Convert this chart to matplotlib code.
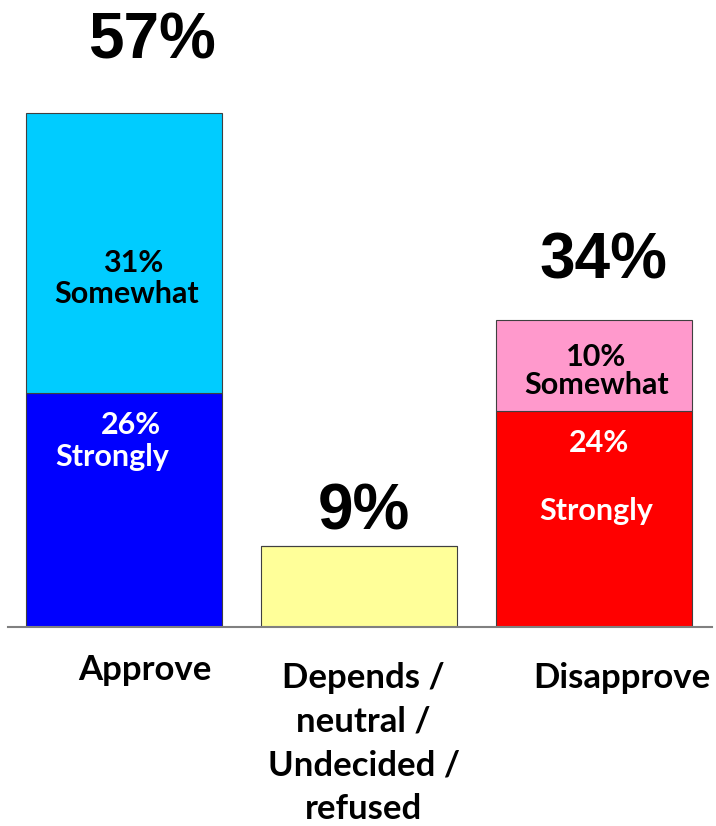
import matplotlib
matplotlib.use("Agg")
import matplotlib.pyplot as plt
import numpy as np

# data
categories = ["Approve", "Depends /\nneutral /\nUndecided /\nrefused", "Disapprove"]
strongly = [26, 9, 24]
somewhat = [31, 0, 10]
totals = [57, 9, 34]
bottom_colors = ["#0000FF", "#FFFF99", "#FF0000"]
top_colors = ["#00CCFF", "#FFFF99", "#FF99CC"]

fig = plt.figure(figsize=(7.16, 8.26), dpi=100)
ax = fig.add_axes([8 / 716, 199 / 826, 704 / 716, 586 / 826])

x = np.arange(len(categories))
w = 196 / 235
ax.bar(x, strongly, width=w, color=bottom_colors, edgecolor="#404040", linewidth=0.8)
ax.bar(x, somewhat, width=w, bottom=strongly, color=top_colors, edgecolor="#404040", linewidth=0.8)

ax.set_xlim(-0.494, 2.502)
ax.set_ylim(0, 65)
for s in ["top", "left", "right"]:
    ax.spines[s].set_visible(False)
ax.spines["bottom"].set_color("#808080")
ax.spines["bottom"].set_linewidth(1.5)
ax.set_xticks([])
ax.set_yticks([])

big = dict(family="Liberation Sans", weight="bold", fontsize=46, ha="center", va="center")
ax.text(0.12, 65.0, f"{totals[0]}%", **big, clip_on=False)
ax.text(0.02 + 1, 12.7, f"{totals[1]}%", **big)
ax.text(2.04, 40.5, f"{totals[2]}%", **big)

inner = dict(family="Lato", weight="bold", fontsize=22, ha="center", va="center")
ax.text(0.04, 40.4, f"{somewhat[0]}%", color="black", **inner)
ax.text(0.01, 36.9, "Somewhat", color="black", **inner)
ax.text(0.03, 22.4, f"{strongly[0]}%", color="white", **inner)
ax.text(-0.05, 18.9, "Strongly", color="white", **inner)
ax.text(2.01, 30.0, f"{somewhat[2]}%", color="black", **inner)
ax.text(2.01, 26.8, "Somewhat", color="black", **inner)
ax.text(2.02, 20.4, f"{strongly[2]}%", color="white", **inner)
ax.text(2.01, 12.9, "Strongly", color="white", **inner)

lab = dict(family="Lato", weight="bold", fontsize=25, ha="center", va="top", linespacing=1.45)
ax.text(0.09, -3.0, categories[0], **lab, clip_on=False)
ax.text(1.02, -3.9, categories[1], **lab, clip_on=False)
ax.text(2.12, -3.9, categories[2], **lab, clip_on=False)

fig.savefig("out.png", dpi=100)
